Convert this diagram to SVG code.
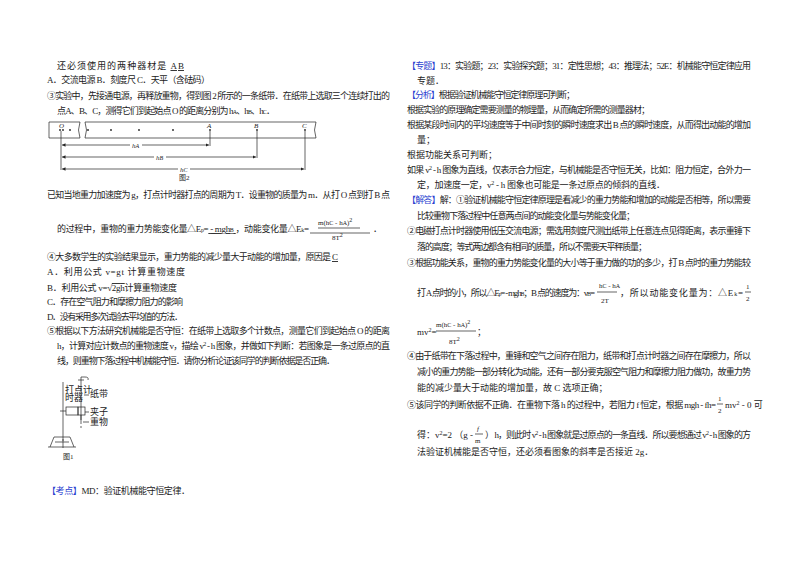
<svg xmlns="http://www.w3.org/2000/svg" width="800" height="565" viewBox="0 0 800 565">
<style>
text{font-family:"Liberation Serif","Noto Sans CJK SC",serif;font-size:9px;fill:#222}
.b{fill:#2b3fd0}
.s{font-size:6px}
.f{font-size:7px}
.ln{stroke:#222;stroke-width:0.7;fill:none}
</style>
<defs><marker id="ar" viewBox="0 0 6 6" refX="6" refY="3" markerWidth="5" markerHeight="5" orient="auto-start-reverse"><path d="M0,0L6,3L0,6z" fill="#222"/></marker></defs>
<rect width="800" height="565" fill="#fff"/>
<g id="left">
<text x="57" y="69" textLength="127">还必须使用的两种器材是 <tspan text-decoration="underline">  AB  </tspan></text>
<text x="47" y="83" textLength="163">A．交流电源  B．刻度尺  C．天平（含砝码）</text>
<text x="47" y="99" textLength="343">③实验中，先接通电源，再释放重物，得到图 2 所示的一条纸带．在纸带上选取三个连续打出的</text>
<text x="57" y="114" textLength="218">点A、B、C，测得它们到起始点 O 的距离分别为 h<tspan class="s">A</tspan>、h<tspan class="s">B</tspan>、h<tspan class="s">C</tspan>．</text>
<g id="tape">
<path class="ln" d="M49,122H80q-3,8 0,16H49z M85,122H316q-3,8 0,16H85q3,-8 0,-16z"/>
<g fill="#222"><circle cx="60" cy="130" r="0.9"/><circle cx="63" cy="130" r="0.9"/><circle cx="70" cy="130" r="0.9"/><circle cx="88" cy="130" r="0.9"/><circle cx="111" cy="130" r="0.9"/><circle cx="139" cy="130" r="0.9"/><circle cx="173" cy="130" r="0.9"/><circle cx="210" cy="130" r="0.9"/><circle cx="257" cy="130" r="0.9"/><circle cx="305" cy="130" r="0.9"/></g>
<text x="59" y="128" class="f" font-style="italic">O</text><text x="207" y="128" class="f" font-style="italic">A</text><text x="254" y="128" class="f" font-style="italic">B</text><text x="302" y="128" class="f" font-style="italic">C</text>
<path class="ln" d="M61,131V170 M210,131V146 M257,131V158 M305,131V170"/>
<path class="ln" d="M62,145H209" marker-start="url(#ar)" marker-end="url(#ar)"/>
<path class="ln" d="M62,157H256" marker-start="url(#ar)" marker-end="url(#ar)"/>
<path class="ln" d="M62,169H304" marker-start="url(#ar)" marker-end="url(#ar)"/>
<rect x="130" y="140" width="12" height="9" fill="#fff"/><text x="132" y="148" class="f" font-style="italic">h<tspan class="s">A</tspan></text>
<rect x="154" y="152" width="12" height="9" fill="#fff"/><text x="156" y="160" class="f" font-style="italic">h<tspan class="s">B</tspan></text>
<rect x="178" y="164" width="12" height="9" fill="#fff"/><text x="180" y="172" class="f" font-style="italic">h<tspan class="s">C</tspan></text>
<text x="179" y="180" class="f">图2</text>
</g>
<text x="47" y="198" textLength="343">已知当地重力加速度为 g，打点计时器打点的周期为 T．设重物的质量为 m．从打 O 点到打 B 点</text>
<text x="57" y="232" textLength="252">的过程中，重物的重力势能变化量△E<tspan class="s">p</tspan>=<tspan text-decoration="underline">   - mgh<tspan class="s">B</tspan>   </tspan>，动能变化量△E<tspan class="s">k</tspan>=</text>
<path class="ln" d="M310,233H370"/>
<text x="318" y="225" class="f">m(h<tspan class="s">C</tspan> - h<tspan class="s">A</tspan>)<tspan dy="-3" class="s">2</tspan></text>
<path class="ln" d="M318,228H360"/>
<text x="332" y="240" class="f">8T<tspan dy="-3" class="s">2</tspan></text>
<text x="373" y="232">．</text>
<text x="47" y="260" textLength="291">④大多数学生的实验结果显示，重力势能的减少量大于动能的增加量，原因是 <tspan text-decoration="underline"> C </tspan></text>
<text x="47" y="275" textLength="138">A．利用公式 v=gt 计算重物速度</text>
<text x="47" y="291" textLength="130">B．利用公式 v=√<tspan text-decoration="overline">2gh</tspan>计算重物速度</text>
<text x="47" y="305" textLength="136">C．存在空气阻力和摩擦力阻力的影响</text>
<text x="47" y="320" textLength="136">D．没有采用多次试验去平均值的方法．</text>
<text x="47" y="334" textLength="343">⑤根据以下方法研究机械能是否守恒：在纸带上选取多个计数点，测量它们到起始点 O 的距离</text>
<text x="57" y="349" textLength="333">h，计算对应计数点的重物速度 v，描绘 v<tspan class="s" dy="-3">2</tspan><tspan dy="3"> - h 图象，并做如下判断：若图象是一条过原点的直</tspan></text>
<text x="57" y="364" textLength="278">线，则重物下落过程中机械能守恒．请你分析论证该同学的判断依据是否正确．</text>
<g id="fig1" class="ln">
<path d="M63,382V448 M48,447H76 M50,447l4,-10H70l4,10 M55,442H69 M62,440h2"/>
<path d="M81,377V420 M81,377h4q4,0 3,3 M78,380h6"/>
<rect x="66" y="407" width="12" height="8"/><rect x="78" y="407" width="7" height="8"/>
<path d="M60,411H66 M81,415V424 M81,426v2"/>
<path d="M84,395H89 M85,412H89 M83,422H89"/>
</g>
<text x="65" y="393" font-size="5">打点计</text><text x="65" y="401" font-size="5">时器</text>
<text x="90" y="397" font-size="5">纸带</text><text x="90" y="415" font-size="5">夹子</text><text x="90" y="425" font-size="5">重物</text>
<text x="63" y="459" class="f">图1</text>
<text x="47" y="494" textLength="143"><tspan class="b">【考点】</tspan>MD：验证机械能守恒定律．</text>
</g>
<g id="right">
<text x="407" y="69" textLength="344"><tspan class="b">【专题】</tspan>13：实验题；23：实验探究题；31：定性思想；43：推理法；52E：机械能守恒定律应用</text>
<text x="417" y="84">专题．</text>
<text x="407" y="98" textLength="168"><tspan class="b">【分析】</tspan>根据验证机械能守恒定律原理可判断；</text>
<text x="407" y="113" textLength="243">根据实验的原理确定需要测量的物理量，从而确定所需的测量器材；</text>
<text x="407" y="128" textLength="344">根据某段时间内的平均速度等于中间时刻的瞬时速度求出 B 点的瞬时速度，从而得出动能的增加</text>
<text x="417" y="143">量；</text>
<text x="407" y="158">根据功能关系可判断；</text>
<text x="407" y="173" textLength="344">如果 v<tspan class="s" dy="-3">2</tspan><tspan dy="3"> - h 图象为直线，仅表示合力恒定，与机械能是否守恒无关，比如：阻力恒定，合外力一</tspan></text>
<text x="417" y="188" textLength="248">定，加速度一定，v<tspan class="s" dy="-3">2</tspan><tspan dy="3"> - h 图象也可能是一条过原点的倾斜的直线．</tspan></text>
<text x="407" y="203" textLength="344"><tspan class="b">【解答】</tspan>解：①验证机械能守恒定律原理是看减少的重力势能和增加的动能是否相等，所以需要</text>
<text x="417" y="219" textLength="218">比较重物下落过程中任意两点间的动能变化量与势能变化量；</text>
<text x="407" y="234" textLength="344">②电磁打点计时器使用低压交流电源；需选用刻度尺测出纸带上任意连点见得距离，表示重锤下</text>
<text x="417" y="250" textLength="230">落的高度；等式两边都含有相同的质量，所以不需要天平秤质量；</text>
<text x="407" y="266" textLength="344">③根据功能关系，重物的重力势能变化量的大小等于重力做的功的多少，打 B 点时的重力势能较</text>
<text x="417" y="296" textLength="178">打 A 点时的小，所以△E<tspan class="s">p</tspan>= - mgh<tspan class="s">B</tspan>；B 点的速度为：v<tspan class="s">B</tspan>=</text>
<text x="599" y="288" class="f">h<tspan class="s">C</tspan> - h<tspan class="s">A</tspan></text>
<path class="ln" d="M597,292H617"/>
<text x="601" y="303" class="f">2T</text>
<text x="620" y="296" textLength="123">，所以动能变化量为：△E<tspan class="s">k</tspan>=</text>
<text x="746" y="289" class="f">1</text><path class="ln" d="M745,292H751"/><text x="746" y="301" class="f">2</text>
<text x="417" y="335">mv<tspan class="s" dy="-3">2</tspan><tspan dy="3">=</tspan></text>
<text x="436" y="327" class="f">m(h<tspan class="s">C</tspan> - h<tspan class="s">A</tspan>)<tspan dy="-3" class="s">2</tspan></text>
<path class="ln" d="M436,331H476"/>
<text x="449" y="344" class="f">8T<tspan dy="-3" class="s">2</tspan></text>
<text x="477" y="335">；</text>
<text x="407" y="359" textLength="344">④由于纸带在下落过程中，重锤和空气之间存在阻力，纸带和打点计时器之间存在摩擦力，所以</text>
<text x="417" y="375" textLength="334">减小的重力势能一部分转化为动能，还有一部分要克服空气阻力和摩擦力阻力做功，故重力势</text>
<text x="417" y="391">能的减少量大于动能的增加量，故 C 选项正确；</text>
<text x="407" y="408" textLength="309">⑤该同学的判断依据不正确．在重物下落 h 的过程中，若阻力 f 恒定，根据 mgh - fh=</text>
<text x="718" y="401" class="f">1</text><path class="ln" d="M717,404H723"/><text x="718" y="413" class="f">2</text>
<text x="725" y="408">mv<tspan class="s" dy="-3">2</tspan><tspan dy="3"> - 0 可</tspan></text>
<text x="417" y="438">得：v<tspan class="s" dy="-3">2</tspan><tspan dy="3">=2 （g - </tspan></text>
<text x="477" y="431" class="f" font-style="italic">f</text><path class="ln" d="M475,434H483"/><text x="475" y="443" class="f">m</text>
<text x="485" y="438" textLength="266">） h，则此时 v<tspan class="s" dy="-3">2</tspan><tspan dy="3"> - h 图象就是过原点的一条直线．所以要想通过 v</tspan><tspan class="s" dy="-3">2</tspan><tspan dy="3"> - h 图象的方</tspan></text>
<text x="417" y="455">法验证机械能是否守恒，还必须看图象的斜率是否接近 2g．</text>
</g>
</svg>
